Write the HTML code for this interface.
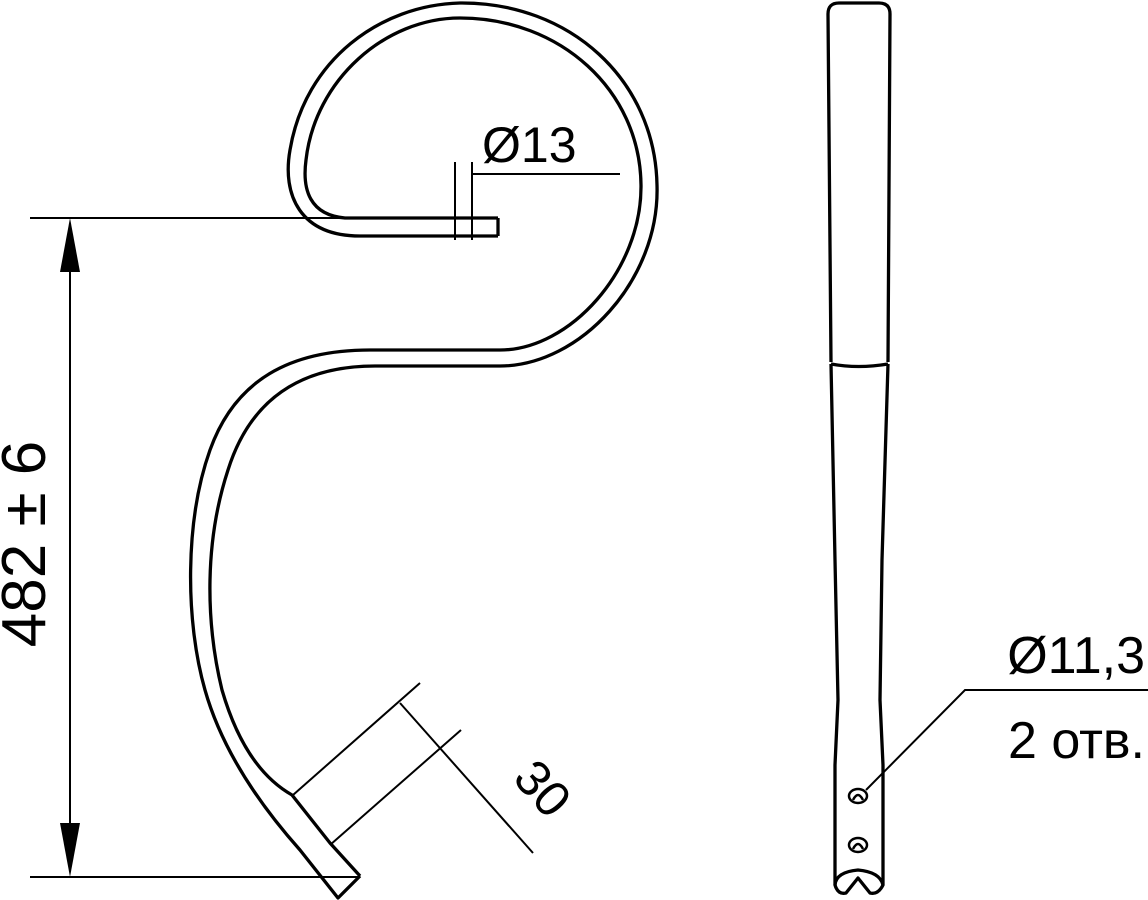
<!DOCTYPE html>
<html><head><meta charset="utf-8"><style>
html,body{margin:0;padding:0;background:#fff;}
svg{display:block;}
text{font-family:"Liberation Sans",sans-serif;fill:#000;}
</style></head><body>
<svg width="1148" height="900" viewBox="0 0 1148 900" xmlns="http://www.w3.org/2000/svg">
<g fill="none" stroke="#000" stroke-width="3.3" stroke-linejoin="round">
<path d="M498,236 L360,236 C300,236 282,195 290,150 C305,60 380,5 460,3 C570,2 655,80 657,185 C660,280 580,366 500,366 L375,366 C300,366 250,400 228,470 C205,540 205,620 222,690 C238,745 262,778 292,795 L330,843 L360,876"/>
<path d="M498,218 L345,218 C310,215 302,190 306,160 C315,80 385,18 460,18 C560,18 640,90 641,185 C642,270 570,350 500,350 L370,350 C290,350 235,380 210,450 C185,520 185,620 205,690 C222,750 260,805 300,850 L338,898 L360,876"/>
<path d="M498,218 L498,236"/>
</g>
<g fill="none" stroke="#000" stroke-width="2">
<line x1="455" y1="162" x2="455" y2="240"/>
<line x1="472" y1="162" x2="472" y2="240"/>
<line x1="472" y1="174" x2="620" y2="174"/>
<line x1="30" y1="218" x2="345" y2="218"/>
<line x1="30" y1="877" x2="358" y2="877"/>
<line x1="70" y1="260" x2="70" y2="835"/>
<line x1="293" y1="795" x2="420" y2="683"/>
<line x1="330" y1="845" x2="461" y2="730"/>
<line x1="400" y1="703" x2="533" y2="853"/>
<polyline points="866,790 965,690 1148,690"/>
</g>
<polygon points="70,218 60,272 80,272" fill="#000"/>
<polygon points="70,877 60,823 80,823" fill="#000"/>
<text x="482" y="162" font-size="50">Ø13</text>
<text transform="translate(45,544) rotate(-90)" font-size="62" text-anchor="middle">482 ± 6</text>
<text transform="translate(530,800) rotate(48)" font-size="50" text-anchor="middle">30</text>
<text x="1145" y="673" font-size="52" text-anchor="end">Ø11,3</text>
<text x="1145" y="758" font-size="52" text-anchor="end">2 отв.</text>
<g fill="none" stroke="#000" stroke-width="3.3" stroke-linejoin="round">
<path d="M831,362 L828,14 Q828,3 839,3 L879,3 Q890,3 890,14 L888,362"/>
<path d="M831,364 Q858,369 888,364"/>
<path d="M831,364 L835,560 L838,700 L835,765 L835,885 Q838,895 846,893 L858,878 L870,893 Q878,895 883,885 L883,765 L880,700 L882,560 L888,364"/>
<path d="M835,885 Q836,872 858,870 Q880,872 883,885"/>
</g>
<g fill="none" stroke="#000" stroke-width="2.5">
<ellipse cx="858" cy="796" rx="9" ry="7"/>
<path d="M853,800 Q858,790 863,800"/>
<ellipse cx="858" cy="845" rx="9" ry="7"/>
<path d="M853,849 Q858,839 863,849"/>
</g>
</svg>
</body></html>
